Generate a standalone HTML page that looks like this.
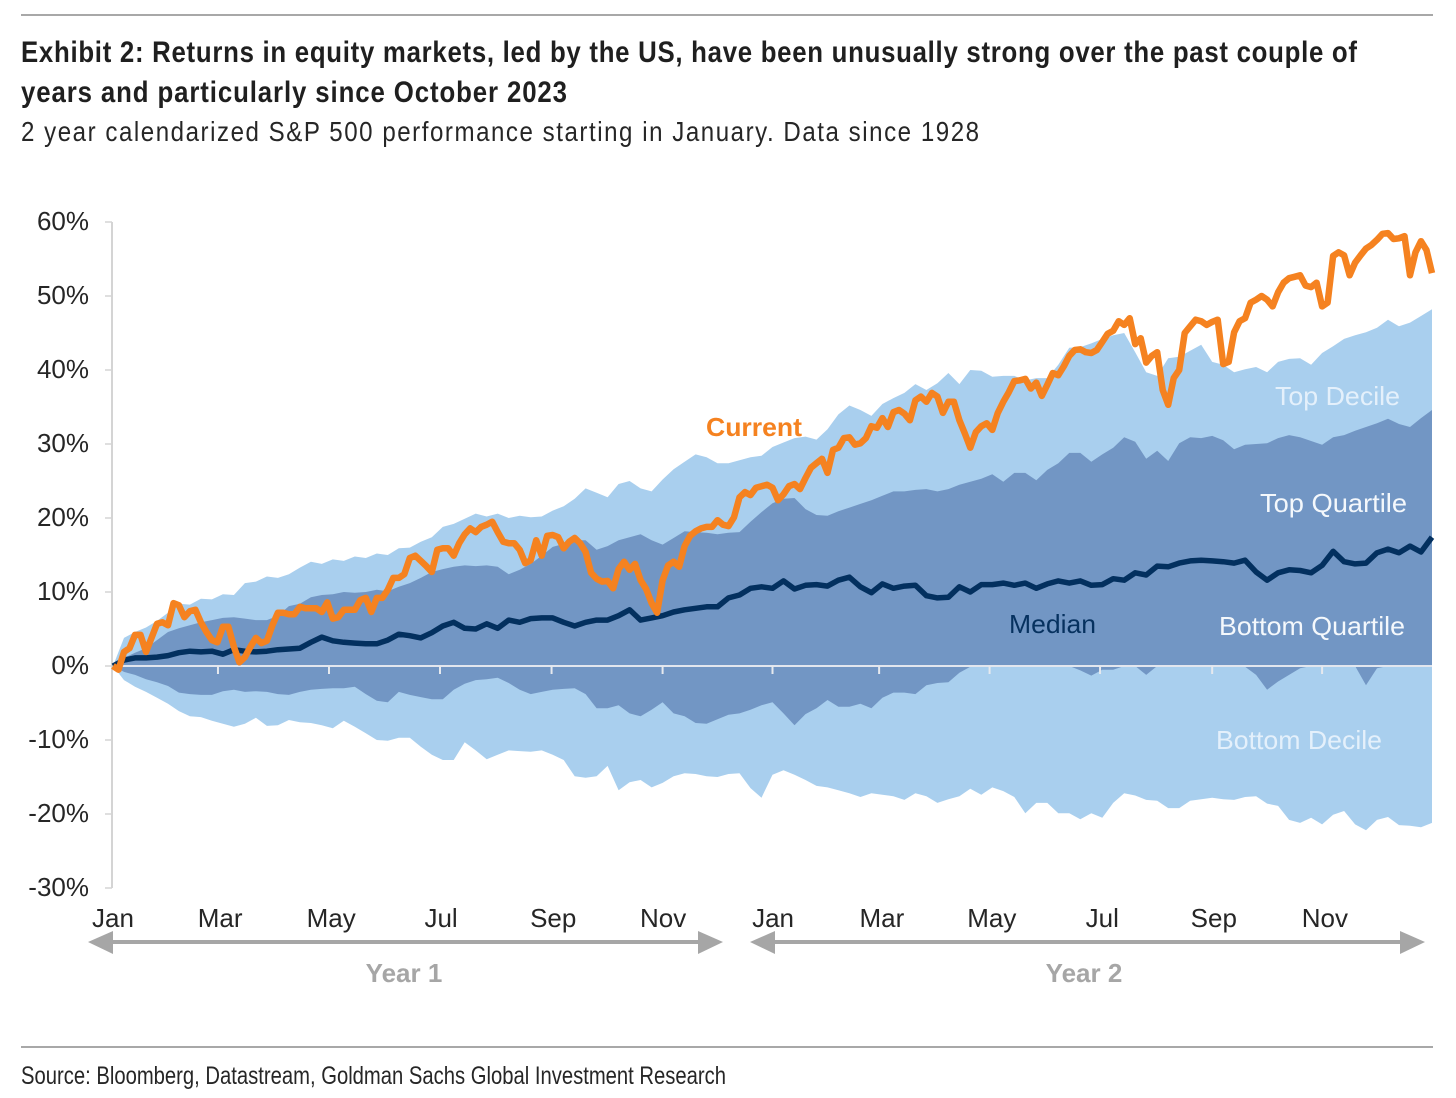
<!DOCTYPE html>
<html lang="en">
<head>
<meta charset="utf-8">
<title>Exhibit 2: S&amp;P 500 two-year performance</title>
<style>
html,body{margin:0;padding:0;background:#fff;}
svg{display:block;}
text{font-family:"Liberation Sans",Arial,sans-serif;}
.tick{font-size:26px;fill:#262626;}
.band{font-size:26px;}
</style>
</head>
<body>
<svg id="chart" xmlns="http://www.w3.org/2000/svg" width="1456" height="1098" viewBox="0 0 1456 1098">
  <rect x="0" y="0" width="1456" height="1098" fill="#ffffff"/>
  <line x1="21" y1="15" x2="1433" y2="15" stroke="#8c8c8c" stroke-width="1.5"/>
  <text transform="translate(21,62) scale(0.86,1)" x="0" y="0" font-size="30" font-weight="700" fill="#1f1f1f" textLength="1553.5" lengthAdjust="spacing">Exhibit 2: Returns in equity markets, led by the US, have been unusually strong over the past couple of</text>
  <text transform="translate(21,102) scale(0.86,1)" x="0" y="0" font-size="30" font-weight="700" fill="#1f1f1f" textLength="634.9" lengthAdjust="spacing">years and particularly since October 2023</text>
  <text transform="translate(21,141) scale(0.86,1)" x="0" y="0" font-size="28" fill="#262626" textLength="1114" lengthAdjust="spacing">2 year calendarized S&amp;P 500 performance starting in January. Data since 1928</text>

  <g id="plot"></g>

  <text x="706" y="436" font-size="26" font-weight="700" fill="#f58220" textLength="96" lengthAdjust="spacingAndGlyphs">Current</text>
  <text class="band" x="1275" y="405" fill="#e4f0fb" textLength="125" lengthAdjust="spacingAndGlyphs">Top Decile</text>
  <text class="band" x="1260" y="512" fill="#f4f8fc" textLength="147" lengthAdjust="spacingAndGlyphs">Top Quartile</text>
  <text class="band" x="1009" y="633" fill="#06315f" textLength="87" lengthAdjust="spacingAndGlyphs">Median</text>
  <text class="band" x="1219" y="635" fill="#f4f8fc" textLength="186" lengthAdjust="spacingAndGlyphs">Bottom Quartile</text>
  <text class="band" x="1216" y="749" fill="#e4f0fb" textLength="166" lengthAdjust="spacingAndGlyphs">Bottom Decile</text>

  <g>
    <line x1="105" y1="942" x2="705" y2="942" stroke="#a6a6a6" stroke-width="4"/>
    <polygon points="88,942 113,931 113,954" fill="#a6a6a6"/>
    <polygon points="723,942 698,931 698,954" fill="#a6a6a6"/>
  </g>
  <g>
    <line x1="765" y1="942" x2="1410" y2="942" stroke="#a6a6a6" stroke-width="4"/>
    <polygon points="750,942 775,931 775,954" fill="#a6a6a6"/>
    <polygon points="1425,942 1400,931 1400,954" fill="#a6a6a6"/>
  </g>
  <text x="404" y="982" font-size="26" font-weight="700" fill="#a6a6a6" text-anchor="middle">Year 1</text>
  <text x="1084" y="982" font-size="26" font-weight="700" fill="#a6a6a6" text-anchor="middle">Year 2</text>

  <line x1="21" y1="1047" x2="1433" y2="1047" stroke="#8c8c8c" stroke-width="1.5"/>
  <text x="21" y="1084" font-size="25" fill="#262626" textLength="705" lengthAdjust="spacingAndGlyphs">Source: Bloomberg, Datastream, Goldman Sachs Global Investment Research</text>
</svg>
<script>
var yTicks = [60, 50, 40, 30, 20, 10, 0, -10, -20, -30];
var monthLabels = ['Jan', 'Mar', 'May', 'Jul', 'Sep', 'Nov', 'Jan', 'Mar', 'May', 'Jul', 'Sep', 'Nov'];
var labelMonths = [0, 1.95, 3.97, 5.97, 8.01, 10.01, 12.01, 13.99, 15.99, 18, 20.03, 22.05];
var tickMonths = [1.91, 3.93, 5.95, 7.98, 10, 12, 13.94, 15.95, 17.96, 20, 22];
var topDecile = [0,3.8,4.6,5.2,6.1,7.2,8.4,8.3,9.1,9,9.7,9.6,11.2,11.4,12.1,11.9,12.4,13.3,14.1,13.8,14.4,14.2,14.8,14.6,15.2,15,15.9,16,16.8,17.4,18.8,19.2,19.9,20.6,20.2,20.6,20,20.3,20.1,20.2,21,21.6,22.6,24,23.4,22.8,24.6,25,24,23.6,25.2,26.6,27.6,28.6,28.2,27.4,27.4,27.8,28.2,28.4,29.6,30.2,30.8,31,30.6,32,34,35.2,34.6,33.8,35.4,36.2,36.9,38.1,37.3,38.2,39.6,38.1,40,39.9,39.1,39.2,39.2,38.6,38.9,38.9,40.7,43,43.1,43.6,44.2,44.7,45,42.4,39.7,39.2,41.6,41.8,42.6,43.4,41.1,40.7,39.7,40.1,40.4,39.7,41.1,41.5,41.6,40.7,42.3,43.2,44.2,44.7,45.1,45.7,46.8,45.9,46.4,47.3,48.2];
var topQuartile = [0,1.1,1.8,2.4,3.5,4.6,5.1,5.5,5.9,6.2,6.5,6.6,6.4,6.2,6.2,6.8,8.1,8.4,9.3,9.6,9.7,10,9.9,10,10.3,10.1,10.7,11.2,11.9,12.7,13.1,13.4,13.6,13.5,13.6,13.4,12.4,13,13.8,14.9,16.1,16.5,17,17,15.7,16.2,17,17.4,17.8,17,16.4,17.3,18.2,18.1,18,17.8,18,18.1,19.5,20.8,22,22.6,22.7,21.2,20.4,20.3,20.9,21.4,21.9,22.4,23,23.6,23.6,23.8,23.9,23.6,23.9,24.5,24.9,25.3,25.9,24.9,26.1,26.1,25.1,26.5,27.4,28.8,28.8,27.6,28.6,29.5,30.9,30.3,28,29.1,27.7,30.1,30.9,30.8,31.1,30.5,29.3,29.9,30,30.1,30.8,31.2,30.9,30.4,29.9,30.9,31.2,31.8,32.3,32.8,33.4,32.7,32.3,33.5,34.6];
var bottomQuartile = [0,-0.8,-1.2,-1.8,-2.2,-2.7,-3.6,-3.8,-3.9,-3.9,-3.4,-3.2,-3.5,-3.4,-3.5,-3.8,-3.9,-3.5,-3.2,-3.1,-3,-3,-2.8,-3.8,-4.7,-4.9,-3.5,-3.9,-4.2,-4.5,-4.5,-3.2,-2.4,-1.9,-1.8,-1.6,-2.3,-3.2,-3.8,-3.5,-3.2,-3.1,-3,-3.8,-5.7,-5.7,-5.3,-6.4,-6.8,-5.9,-4.9,-6.4,-6.8,-7.7,-7.8,-7.2,-6.6,-6.4,-5.9,-5.3,-4.9,-6.4,-8,-6.5,-5.7,-4.6,-5.5,-5.5,-5.1,-5.7,-4.3,-3.6,-3.6,-3.8,-2.6,-2.3,-2.2,-0.9,-0.1,0,0,0,0,0,0,0,-0.1,0,-0.6,-1.3,-0.5,-0.5,0,0,-1.2,0,0,0,0,0,0,0,0,-0.1,-1.2,-3.2,-2.1,-1.2,-0.3,0,0,0,0,0,-2.6,-0.3,0,0,0,0,0];
var bottomDecile = [0,-1.9,-2.8,-3.5,-4.3,-5.1,-6.1,-6.8,-6.9,-7.4,-7.8,-8.2,-7.8,-7,-8.1,-8,-7.3,-7.6,-7.7,-8,-8.4,-7.4,-8.2,-9.1,-10,-10.1,-9.7,-9.7,-10.9,-12,-12.7,-12.7,-10.3,-11.4,-12.6,-12,-11.4,-11.5,-11.6,-11.4,-12,-12.7,-14.9,-15.1,-14.9,-13.5,-16.8,-15.7,-15.4,-16.4,-15.8,-14.9,-14.5,-14.6,-14.9,-15,-14.6,-14.5,-16.5,-17.8,-14.7,-14.1,-14.7,-15.4,-16.2,-16.4,-16.8,-17.2,-17.7,-17.2,-17.4,-17.6,-18.1,-17.2,-17.6,-18.5,-18,-17.6,-16.6,-17.4,-16.4,-16.9,-17.7,-19.9,-18.5,-18.5,-19.9,-19.9,-20.7,-19.9,-20.5,-18.5,-17.2,-17.5,-18.1,-18.2,-19.2,-19.2,-18.2,-18,-17.8,-18,-18.1,-17.7,-17.6,-18.6,-18.9,-20.8,-21.2,-20.5,-21.4,-20.1,-19.6,-21.4,-22.2,-20.8,-20.4,-21.5,-21.6,-21.8,-21.2];
var median = [0,0.8,1.1,1.1,1.2,1.4,1.8,2,1.9,2,1.6,2.2,2,1.9,2,2.2,2.3,2.4,3.2,3.9,3.4,3.2,3.1,3,3,3.5,4.3,4.1,3.8,4.5,5.4,5.9,5.1,5,5.7,5.1,6.2,5.9,6.4,6.5,6.5,5.9,5.4,5.9,6.2,6.2,6.8,7.6,6.2,6.5,6.8,7.3,7.6,7.8,8,8,9.2,9.6,10.5,10.7,10.5,11.5,10.4,10.9,11,10.8,11.6,12,10.7,9.9,11.1,10.5,10.8,10.9,9.5,9.2,9.3,10.7,10,11,11,11.2,10.9,11.2,10.5,11.1,11.5,11.2,11.5,10.9,11,11.8,11.6,12.6,12.3,13.5,13.4,13.9,14.2,14.3,14.2,14.1,13.9,14.3,12.7,11.6,12.6,13,12.9,12.6,13.6,15.5,14.1,13.8,13.9,15.3,15.8,15.3,16.2,15.4,17.4];
var current = [0,-0.5,1.9,2.4,4.2,4.2,1.9,3.8,5.7,5.9,5.5,8.5,8.2,6.6,7.4,7.6,5.9,4.6,3.5,3.2,5.3,5.3,2.6,0.5,1.2,2.6,3.8,3.1,3.4,5.5,7.2,7.2,7,7,8,7.8,7.8,7.8,7.3,8.6,6.4,6.6,7.6,7.6,7.6,8.9,9.2,7.3,9.2,9.2,10.3,11.9,11.9,12.4,14.6,14.9,14.2,13.5,12.7,15.7,15.9,15.9,14.9,16.6,17.8,18.6,18.1,18.8,19.1,19.5,18.1,16.8,16.6,16.6,15.7,13.9,14.3,17,14.9,17.6,17.7,17.4,15.9,16.8,17.3,16.6,15.4,12.6,11.8,11.4,11.5,10.5,13.1,14.1,13,13.8,11.6,10.4,8.5,7.2,11.6,13.6,14.1,13.4,16.2,17.6,18.2,18.6,18.8,18.8,19.7,19.1,18.9,20.1,22.8,23.5,23.1,24.1,24.3,24.5,24.1,22.4,23.2,24.3,24.6,23.9,25.4,26.8,27.4,28,26.1,29.2,29.5,30.8,30.9,29.9,30.1,30.8,32.4,32.2,33.5,32.3,34.3,34.6,34.1,33.2,35.9,36.4,35.7,36.9,36.4,34.2,35.7,35.7,33.2,31.4,29.5,31.6,32.4,32.8,31.9,34.2,35.7,37,38.5,38.6,38.8,37.5,38.3,36.5,38,39.6,39.3,40.5,41.9,42.7,42.8,42.4,42.3,42.7,43.8,44.9,45.3,46.6,46.1,47,43.5,44.3,41,41.9,42.4,37.3,35.3,38.9,40,45,45.9,46.8,46.6,46.1,46.5,46.8,40.8,41.1,45.1,46.6,47,49.1,49.5,50,49.5,48.6,50.5,51.8,52.4,52.6,52.8,51.4,51.2,51.8,48.6,49.1,55.4,55.9,55.5,52.8,54.5,55.5,56.4,56.9,57.6,58.4,58.5,57.7,57.8,58.1,52.8,55.9,57.4,56.2,53.1];

var svgNS = 'http://www.w3.org/2000/svg';
var plot = document.getElementById('plot');
var totalMonths = 24;

function xScale(month) {
  return 113 + month * (1432 - 113) / totalMonths;
}
function yScale(pct) {
  return 666 - pct * 7.4;
}
function monthAt(i, series) {
  return i * totalMonths / (series.length - 1);
}
function make(tag) {
  var el = document.createElementNS(svgNS, tag);
  plot.appendChild(el);
  return el;
}
function linePoints(series) {
  return series.map(function (v, i) {
    return xScale(monthAt(i, series)).toFixed(1) + ',' + yScale(v).toFixed(1);
  });
}
function bandPoints(upper, lower) {
  var a = linePoints(upper);
  var b = linePoints(lower).reverse();
  return a.concat(b).join(' ');
}

var outerBand = make('polygon');


outerBand.setAttribute('points', bandPoints(topDecile, bottomDecile));
outerBand.setAttribute('fill', '#a9cfee');

var innerBand = make('polygon');


innerBand.setAttribute('points', bandPoints(topQuartile, bottomQuartile));
innerBand.setAttribute('fill', '#7296c4');

var yAxis = make('line');


yAxis.setAttribute('x1', xScale(0) - 1);
yAxis.setAttribute('x2', xScale(0) - 1);
yAxis.setAttribute('y1', yScale(yTicks[0]));
yAxis.setAttribute('y2', yScale(yTicks[yTicks.length - 1]));
yAxis.setAttribute('stroke', '#d4d4d4');
yAxis.setAttribute('stroke-width', '2');

yTicks.forEach(function (t) {
  var mark = make('line');
  
  
  mark.setAttribute('x1', xScale(0) - 8);
  mark.setAttribute('x2', xScale(0) - 1);
  mark.setAttribute('y1', yScale(t));
  mark.setAttribute('y2', yScale(t));
  mark.setAttribute('stroke', '#d4d4d4');
  mark.setAttribute('stroke-width', '1.5');
  var label = make('text');
  
  
  label.setAttribute('class', 'tick');
  label.setAttribute('x', 89);
  label.setAttribute('y', yScale(t) + 8);
  label.setAttribute('text-anchor', 'end');
  label.textContent = t + '%';
});

var zeroLine = make('line');


zeroLine.setAttribute('x1', xScale(0));
zeroLine.setAttribute('x2', xScale(totalMonths));
zeroLine.setAttribute('y1', yScale(0));
zeroLine.setAttribute('y2', yScale(0));
zeroLine.setAttribute('stroke', '#e2e6ee');
zeroLine.setAttribute('stroke-width', '2');

tickMonths.forEach(function (m) {
  var mark = make('line');
  
  
  mark.setAttribute('x1', xScale(m));
  mark.setAttribute('x2', xScale(m));
  mark.setAttribute('y1', yScale(0));
  mark.setAttribute('y2', yScale(0) + 8);
  mark.setAttribute('stroke', '#e6e9ee');
  mark.setAttribute('stroke-width', '2');
});

monthLabels.forEach(function (name, i) {
  var label = make('text');
  
  
  label.setAttribute('class', 'tick');
  label.setAttribute('x', xScale(labelMonths[i]));
  label.setAttribute('y', 927);
  label.setAttribute('text-anchor', 'middle');
  label.textContent = name;
});

var medianLine = make('polyline');


medianLine.setAttribute('points', linePoints(median).join(' '));
medianLine.setAttribute('fill', 'none');
medianLine.setAttribute('stroke', '#03305f');
medianLine.setAttribute('stroke-width', '5.5');
medianLine.setAttribute('stroke-linejoin', 'round');

var currentLine = make('polyline');


currentLine.setAttribute('points', linePoints(current).join(' '));
currentLine.setAttribute('fill', 'none');
currentLine.setAttribute('stroke', '#f58220');
currentLine.setAttribute('stroke-width', '6.5');
currentLine.setAttribute('stroke-linejoin', 'round');
</script>
</body>
</html>
